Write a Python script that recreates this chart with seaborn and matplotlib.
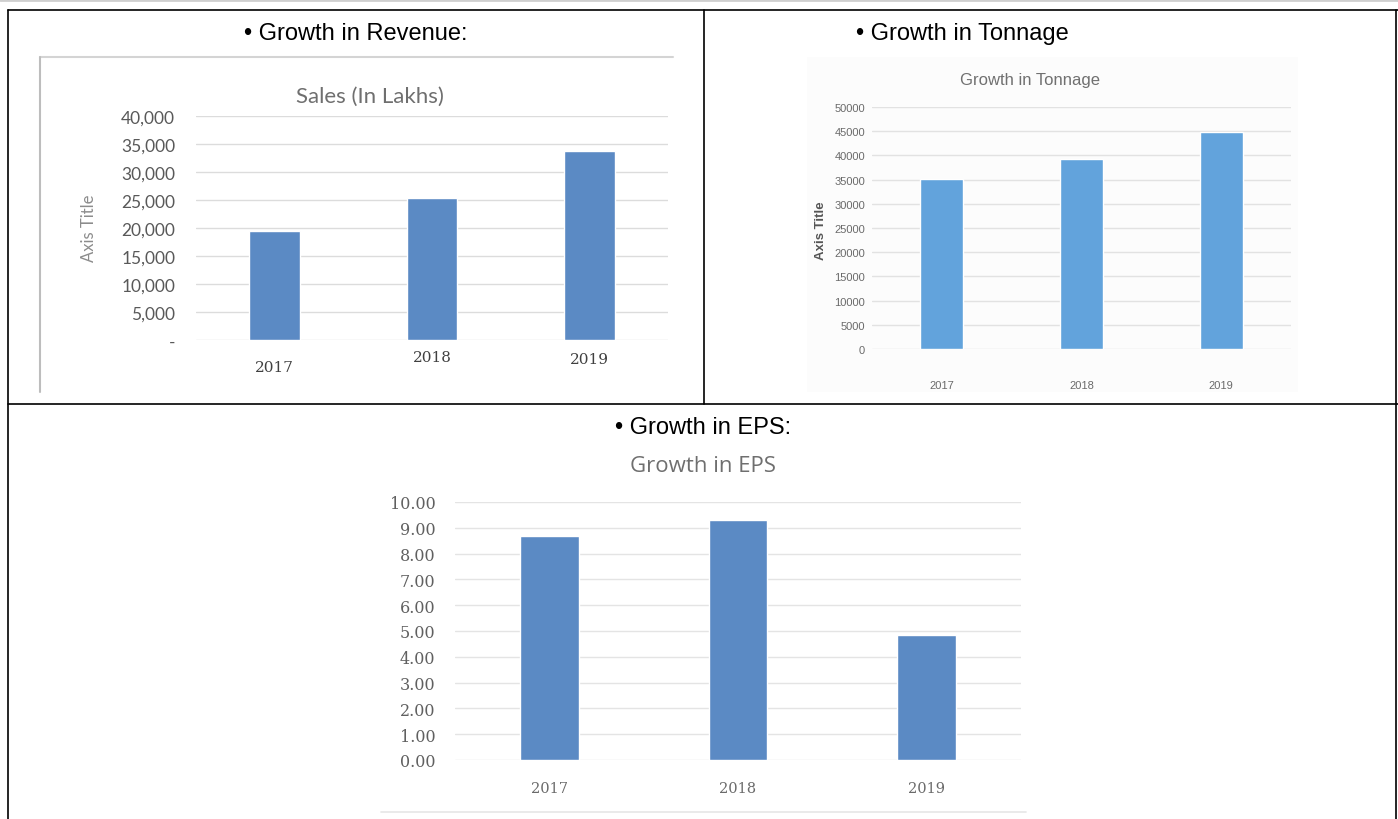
import matplotlib
matplotlib.use("Agg")
import matplotlib.pyplot as plt
import seaborn as sns
import pandas as pd
from matplotlib.lines import Line2D
from matplotlib.patches import Rectangle
from matplotlib.ticker import FuncFormatter, MultipleLocator
from matplotlib.transforms import ScaledTranslation

# ---------------- data ----------------
years = ["2017", "2018", "2019"]
sales_lakhs = [19500, 25300, 33800]
tonnage = [35100, 39300, 44900]
eps = [8.70, 9.30, 4.85]

header_revenue = "• Growth in Revenue:"
header_tonnage = "• Growth in Tonnage"
header_eps = "• Growth in EPS:"
title_sales = "Sales (In Lakhs)"
title_tonnage = "Growth in Tonnage"
title_eps = "Growth in EPS"
axis_title = "Axis Title"

# ---------------- figure ----------------
sns.set_style("white")
plt.rcParams["font.family"] = ["DejaVu Sans"]
W, H = 1398, 820
fig = plt.figure(figsize=(W / 100, H / 100), dpi=100)
fig.patch.set_facecolor("white")


def fx(x):
    return x / W


def fy(y):
    return 1 - y / H


def ax_at(x0, y0, x1, y1):
    return fig.add_axes([fx(x0), fy(y1), (x1 - x0) / W, (y1 - y0) / H])


def fline(xs, ys, color="black", lw=1.2):
    fig.add_artist(Line2D([fx(v) for v in xs], [fy(v) for v in ys],
                          transform=fig.transFigure, color=color, lw=lw))


# table frame
fline([0, W], [1, 1], color="#cfcfcf", lw=2)
fline([8, W], [11, 11])
fline([8, 8], [11, H])
fline([1396, 1396], [11, H])
fline([704, 704], [11, 405])
fline([8, W], [405, 405])

# chart-image decorations
fline([40, 673], [58, 58], color="#d4d4d4", lw=1.5)
fline([40, 40], [58, 393], color="#bdbdbd", lw=1.5)
fig.add_artist(Rectangle((fx(807), fy(393)), (1298 - 807) / W, (393 - 58) / H,
                         transform=fig.transFigure, facecolor="#fcfcfc",
                         edgecolor="none", zorder=0))
fline([381, 1026], [813, 813], color="#e6e6e6", lw=1.2)

# headers
hdr_font = ["Liberation Sans", "DejaVu Sans"]
fig.text(fx(356), fy(34), header_revenue, ha="center", va="center",
         fontsize=17, family=hdr_font, color="black")
fig.text(fx(962), fy(34), header_tonnage, ha="center", va="center",
         fontsize=17, family=hdr_font, color="black")
fig.text(fx(703), fy(428), header_eps, ha="center", va="center",
         fontsize=17, family=hdr_font, color="black")


def style_axes(ax, grid_color="#dcdcdc"):
    for s in ax.spines.values():
        s.set_visible(False)
    ax.yaxis.grid(True, color=grid_color, lw=1.0)
    ax.xaxis.grid(False)
    ax.set_axisbelow(True)
    ax.set_xlabel("")
    ax.set_ylabel("")
    ax.tick_params(axis="both", length=0)
    ax.set_xlim(-0.5, 2.5)
    ax.patch.set_alpha(0)


# ---------------- chart 1: Sales ----------------
ax1 = ax_at(196, 117, 668, 341)
df1 = pd.DataFrame({"Year": years, "Sales": sales_lakhs})
sns.barplot(data=df1, x="Year", y="Sales", ax=ax1, color="#5b8ac4",
            saturation=1, width=0.32)
style_axes(ax1)
ax1.set_ylim(0, 40000)
ax1.yaxis.set_major_locator(MultipleLocator(5000))
ax1.yaxis.set_major_formatter(FuncFormatter(lambda v, p: "-" if v == 0 else f"{int(v):,}"))
ax1.tick_params(axis="y", pad=15, labelsize=12.5, labelcolor="#595959")
ax1.tick_params(axis="x", pad=7, labelsize=11, labelcolor="#404040")
for lbl in ax1.get_yticklabels():
    lbl.set_family(["Lato", "DejaVu Sans"])
for lbl in ax1.get_xticklabels():
    lbl.set_family(["DejaVu Serif"])
offs = [-10, 0, -2]
for lbl, o in zip(ax1.get_xticklabels(), offs):
    lbl.set_transform(lbl.get_transform() + ScaledTranslation(0, o / 100, fig.dpi_scale_trans))
fig.text(fx(370), fy(97), title_sales, ha="center", va="center", fontsize=16,
         family=["Lato", "DejaVu Sans"], color="#6f6f6f")
fig.text(fx(89), fy(228), axis_title, ha="center", va="center", rotation=90,
         fontsize=12, family=["Lato", "DejaVu Sans"], color="#8c8c8c")

# ---------------- chart 2: Tonnage ----------------
ax2 = ax_at(872, 108, 1291, 350)
df2 = pd.DataFrame({"Year": years, "Tonnage": tonnage})
sns.barplot(data=df2, x="Year", y="Tonnage", ax=ax2, color="#62a3dc",
            saturation=1, width=0.31)
style_axes(ax2, grid_color="#e2e2e2")
ax2.set_ylim(0, 50000)
ax2.yaxis.set_major_locator(MultipleLocator(5000))
ax2.yaxis.set_major_formatter(FuncFormatter(lambda v, p: f"{int(v)}"))
ax2.tick_params(axis="y", pad=5, labelsize=8, labelcolor="#6a6a6a")
ax2.tick_params(axis="x", pad=22, labelsize=8, labelcolor="#6a6a6a")
for lbl in ax2.get_yticklabels() + ax2.get_xticklabels():
    lbl.set_family(["Liberation Sans Narrow", "Liberation Sans", "DejaVu Sans"])
fig.text(fx(1030), fy(81), title_tonnage, ha="center", va="center", fontsize=12,
         family=["Liberation Sans Narrow", "Liberation Sans", "DejaVu Sans"], color="#707070")
fig.text(fx(821), fy(231), axis_title, ha="center", va="center", rotation=90,
         fontsize=9.5, fontweight="bold", family=["Liberation Sans", "DejaVu Sans"],
         color="#555555")

# ---------------- chart 3: EPS ----------------
ax3 = ax_at(455, 503, 1021, 761)
df3 = pd.DataFrame({"Year": years, "EPS": eps})
sns.barplot(data=df3, x="Year", y="EPS", ax=ax3, color="#5b8ac4",
            saturation=1, width=0.31)
style_axes(ax3, grid_color="#e4e4e4")
ax3.set_ylim(0, 10)
ax3.yaxis.set_major_locator(MultipleLocator(1))
ax3.yaxis.set_major_formatter(FuncFormatter(lambda v, p: f"{v:.2f}"))
ax3.tick_params(axis="y", pad=14, labelsize=11.5, labelcolor="#606060")
ax3.tick_params(axis="x", pad=15, labelsize=10.5, labelcolor="#6a6a6a")
for lbl in ax3.get_yticklabels() + ax3.get_xticklabels():
    lbl.set_family(["DejaVu Serif"])
fig.text(fx(703), fy(467), title_eps, ha="center", va="center", fontsize=16,
         family=["Open Sans", "DejaVu Sans"], color="#6f6f6f")

fig.savefig("out.png", dpi=100, facecolor="white")
